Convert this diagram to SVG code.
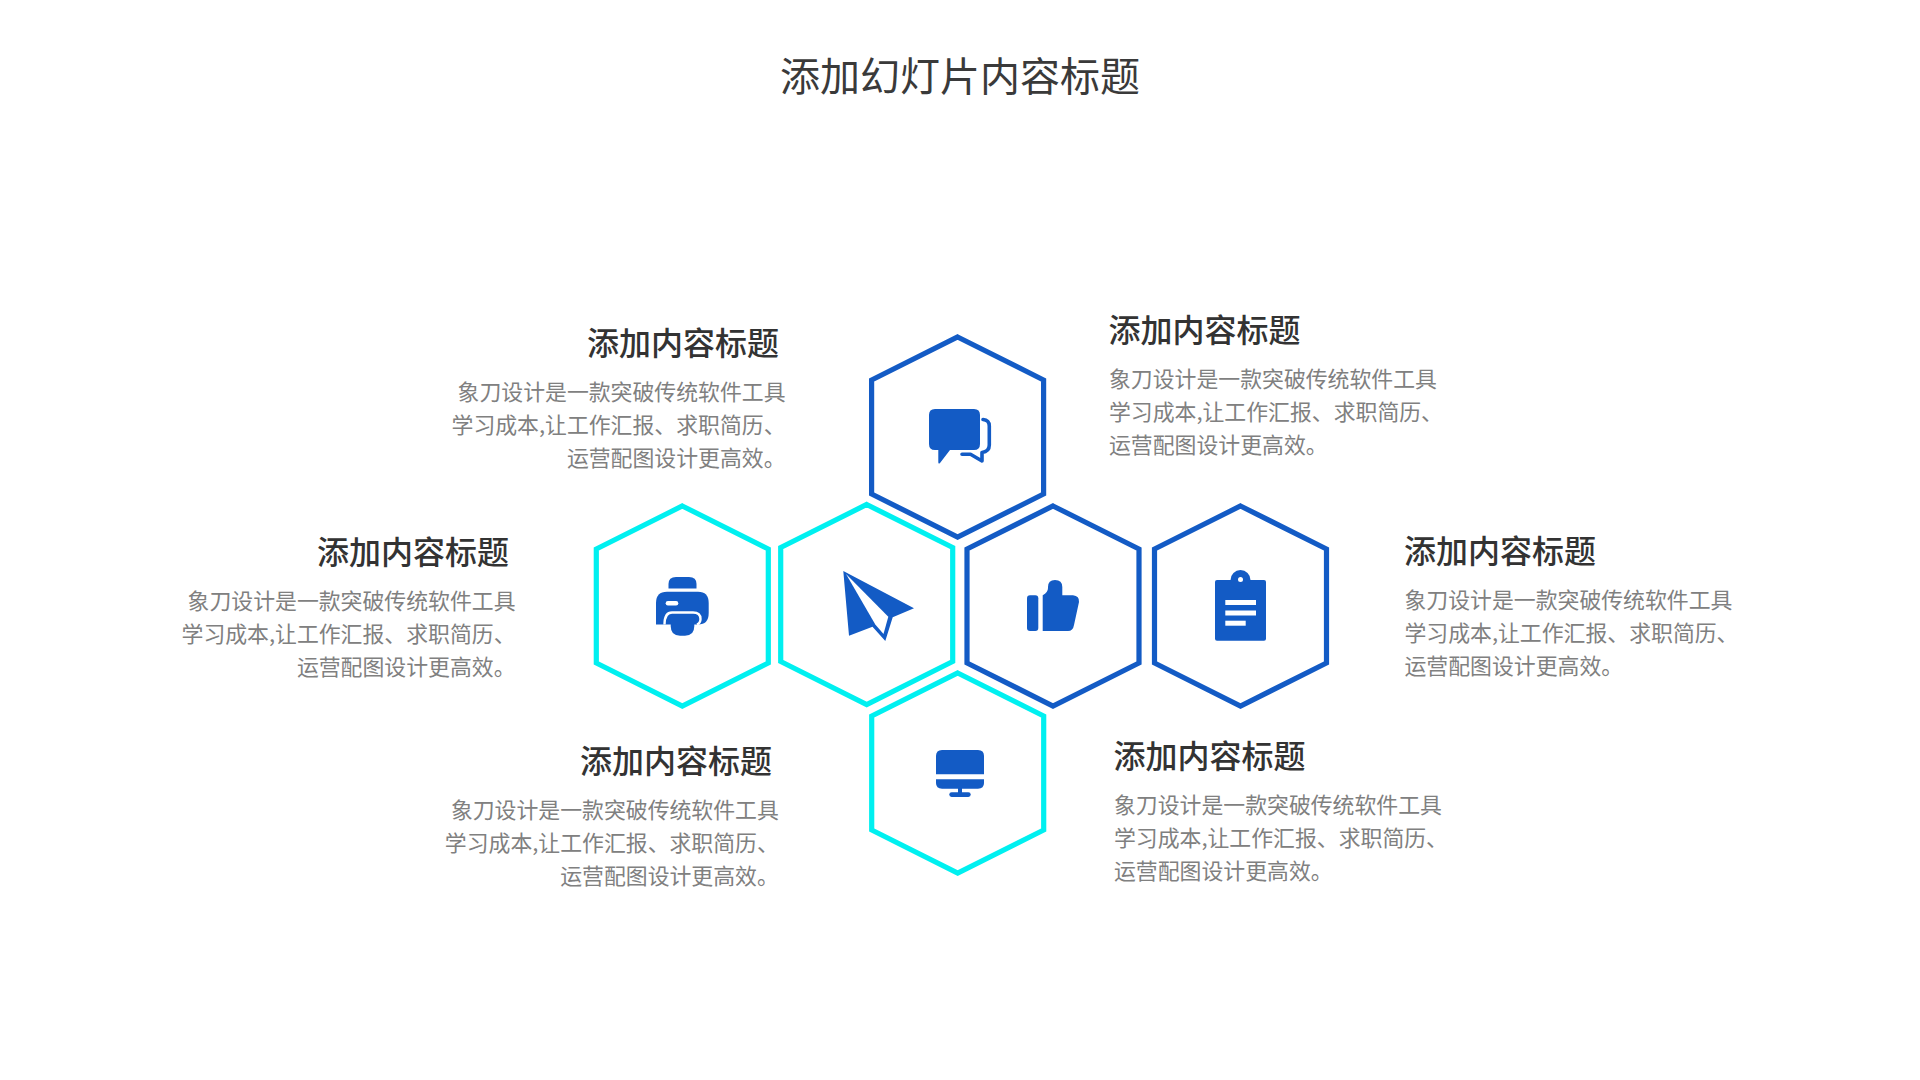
<svg xmlns="http://www.w3.org/2000/svg" width="1920" height="1080" viewBox="0 0 1920 1080">
<defs>
<style>
text{font-family:"Noto Sans CJK SC","Noto Sans",sans-serif}
.title{font-size:40px;fill:#3a3a3a;text-anchor:middle;font-weight:400}
.h{font-size:32px;fill:#333;font-weight:500}
.b{font-size:21.87px;fill:#808080}
.r{text-anchor:end}
.hex{fill:#fff;stroke-width:5.2}
.blue{stroke:#135bc5}
.cyan{stroke:#00f0f0}
.i{fill:#135bc5}
.w{fill:#fff}
</style>
<polygon id="hx" points="0,-100 86,-57 86,57 0,100 -86,57 -86,-57"/>
</defs>
<rect width="1920" height="1080" fill="#fff"/>
<text class="title" x="960" y="91">添加幻灯片内容标题</text>

<g id="node-printer">
<use href="#hx" x="682.3" y="606" class="hex cyan"/>
<path class="i" d="M668.5 588.5V584Q668.5 577 676 577H689Q696.5 577 696.5 584V588.5Z"/>
<path class="i" d="M656 624.5V603Q656 591.7 667 591.7H698Q708.7 591.7 708.7 603V613Q708.7 624.5 698 624.5H656Z"/>
<rect class="w" x="665.7" y="601" width="12.6" height="4.4" rx="2.2"/>
<path d="M664.5 624.5Q664.5 612.5 672 612.5H693Q700.5 612.5 700.5 619Q700.5 623 697 624.5" fill="none" stroke="#fff" stroke-width="2.4"/>
<path class="i" d="M670.7 614H694.3V626Q694.3 635.7 685 635.7H680Q670.7 635.7 670.7 626Z"/>
</g>

<g id="node-plane">
<use href="#hx" x="866.7" y="604.5" class="hex cyan"/>
<polygon class="i" points="843.3,571 914,608.3 892.7,617.3 885.3,641 872.5,626.7 849,635.7"/>
<polygon class="w" points="846,574 888.3,616.7 883.5,634 875.3,624.5"/>
</g>

<g id="node-thumb">
<use href="#hx" x="1053" y="606" class="hex blue"/>
<rect class="i" x="1027" y="595.3" width="11.3" height="35.7" rx="3"/>
<path class="i" d="M1042.7 631V595.3Q1048 592.5 1048 588V587Q1048 580 1055 580Q1062.3 580 1062.3 587V595.3H1073Q1079.5 596 1079 602L1074 625Q1073 631 1068 631Z"/>
</g>

<g id="node-clipboard">
<use href="#hx" x="1240.5" y="606" class="hex blue"/>
<rect class="i" x="1215" y="580" width="51" height="60.7" rx="2"/>
<circle class="i" cx="1240.5" cy="580" r="10"/>
<circle class="w" cx="1240.5" cy="579.5" r="2.5"/>
<rect class="w" x="1225.3" y="600" width="30.7" height="5"/>
<rect class="w" x="1225.3" y="610.5" width="30.7" height="5"/>
<rect class="w" x="1225.3" y="620.7" width="20.4" height="5"/>
</g>

<g id="node-chat">
<use href="#hx" x="957.6" y="437" class="hex blue"/>
<path class="i" d="M929 415Q929 409 935 409H974Q980 409 980 415V444Q980 450 974 450H950L940 463Q938.3 464.5 938.3 462V450H935Q929 450 929 444Z"/>
<path d="M983 419.5Q989.3 420 989.3 426V445Q989.3 451.5 982 452.5V461L970.5 454.3H962" fill="none" stroke="#135bc5" stroke-width="3.6" stroke-linecap="round" stroke-linejoin="round"/>
</g>

<g id="node-monitor">
<use href="#hx" x="957.7" y="773" class="hex cyan"/>
<path class="i" d="M936 774.3V756Q936 750 942 750H978Q984 750 984 756V774.3Z"/>
<path class="i" d="M936 779.3H984V783Q984 788.7 978 788.7H942Q936 788.7 936 783Z"/>
<rect class="i" x="958" y="788" width="4" height="5"/>
<rect class="i" x="949.3" y="792.3" width="21.4" height="4.6" rx="2.3"/>
</g>

<g id="text-tl">
<text class="h r" x="779" y="355">添加内容标题</text>
<text class="b r" x="785.5" y="400">象刀设计是一款突破传统软件工具</text>
<text class="b r" x="785.5" y="433">学习成本,让工作汇报、求职简历、</text>
<text class="b r" x="785.5" y="466">运营配图设计更高效。</text>
</g>
<g id="text-ml">
<text class="h r" x="509" y="564">添加内容标题</text>
<text class="b r" x="515.5" y="609">象刀设计是一款突破传统软件工具</text>
<text class="b r" x="515.5" y="642">学习成本,让工作汇报、求职简历、</text>
<text class="b r" x="515.5" y="675">运营配图设计更高效。</text>
</g>
<g id="text-bl">
<text class="h r" x="772" y="773">添加内容标题</text>
<text class="b r" x="778.8" y="818">象刀设计是一款突破传统软件工具</text>
<text class="b r" x="778.8" y="851">学习成本,让工作汇报、求职简历、</text>
<text class="b r" x="778.8" y="884">运营配图设计更高效。</text>
</g>
<g id="text-tr">
<text class="h" x="1108.5" y="342">添加内容标题</text>
<text class="b" x="1109" y="387">象刀设计是一款突破传统软件工具</text>
<text class="b" x="1109" y="420">学习成本,让工作汇报、求职简历、</text>
<text class="b" x="1109" y="453">运营配图设计更高效。</text>
</g>
<g id="text-mr">
<text class="h" x="1404" y="563">添加内容标题</text>
<text class="b" x="1404.5" y="608">象刀设计是一款突破传统软件工具</text>
<text class="b" x="1404.5" y="641">学习成本,让工作汇报、求职简历、</text>
<text class="b" x="1404.5" y="674">运营配图设计更高效。</text>
</g>
<g id="text-br">
<text class="h" x="1113.5" y="768">添加内容标题</text>
<text class="b" x="1114" y="813">象刀设计是一款突破传统软件工具</text>
<text class="b" x="1114" y="846">学习成本,让工作汇报、求职简历、</text>
<text class="b" x="1114" y="879">运营配图设计更高效。</text>
</g>
</svg>
